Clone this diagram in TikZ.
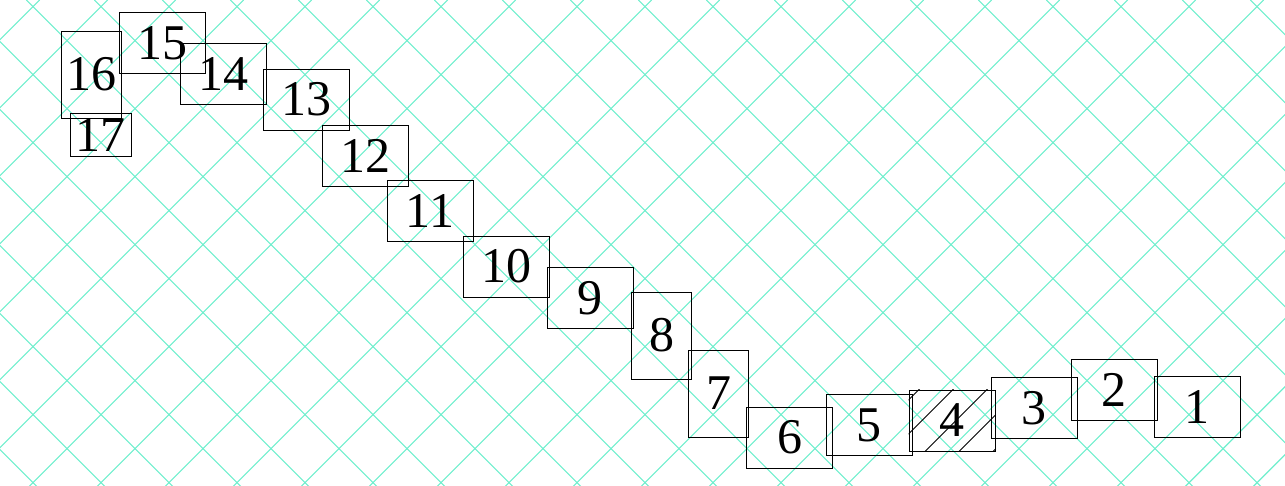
\documentclass[tikz,border=0pt]{standalone}
\usepackage{fontspec}
\setmainfont{Liberation Serif}
\usepackage{xcolor}
\usetikzlibrary{positioning}
\definecolor{gridcol}{RGB}{110,238,205}

\begin{document}
\begin{tikzpicture}[
  x=1pt, y=-1pt,
  gridline/.style={draw=gridcol, line width=1.1pt},
  slot/.style={draw, line width=1pt, inner sep=0pt, font=\fontsize{50}{60}\selectfont},
  wide/.style={slot, minimum width=86pt, minimum height=61pt},
  tall/.style={slot, minimum width=60pt, minimum height=87pt},
  low/.style={slot, minimum width=61pt, minimum height=43pt},
  hatch/.style={line width=0.8pt}
]
\useasboundingbox (0,0) rectangle (1285,485);
% diagonal background grid
\begin{scope}
  \clip (0,0) rectangle (1285,485);
  \foreach \k in {0,...,26}
    \draw[gridline] (39.7+68*\k,0) -- ++(-600,600);
  \foreach \k in {-8,...,19}
    \draw[gridline] (26.3+68*\k,0) -- ++(600,600);
\end{scope}

\node[wide] (n1) at (1197,407) {1};
\node[wide] (n2) at (1114,389.5) {2};
\node[wide] (n3) at (1034,408) {3};
\node[wide] (n4) at (952,420.5) {};
\node[wide] (n5) at (869,425) {5};
\node[wide] (n6) at (789.5,437.5) {6};
\node[tall] (n7) at (718.5,393.5) {7};
\node[tall] (n8) at (661.5,335.5) {8};
\node[wide] (n9) at (590,298) {9};
\node[wide] (n10) at (506,266.5) {10};
\node[wide] (n11) at (430,210.5) {11};
\node[wide] (n12) at (365,155.5) {12};
\node[wide] (n13) at (306.5,99.5) {13};
\node[wide] (n14) at (223,73.5) {14};
\node[wide] (n15) at (162,43) {15};
\node[tall] (n16) at (91,74.5) {16};
\node[low] (n17) at (100.5,134.5) {17};

% hatched slot
\begin{scope}
  \clip (n4.south west) rectangle (n4.north east);
  \foreach \c in {1308.5,1342.5,1376.5,1410.5,1444.5}
    \draw[hatch] (\c,0) -- ++(-600,600);
\end{scope}
\node[wide] at (n4) {4};
\end{tikzpicture}
\end{document}
